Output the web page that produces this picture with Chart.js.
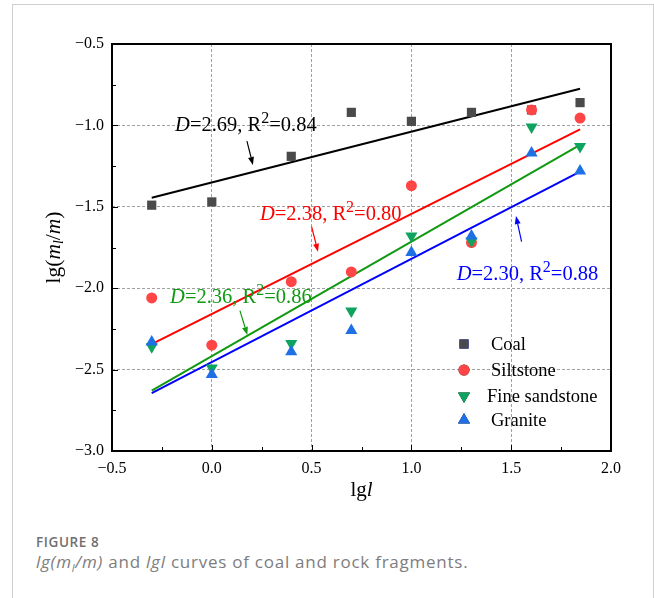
<!DOCTYPE html>
<html lang="en">
<head>
<meta charset="UTF-8">
<title>lg(ml/m) and lgl curves</title>
<script src="https://cdn.jsdelivr.net/npm/chart.js"></script>
<style>
  body { margin: 0; background: #fff; }
  .card { position: absolute; left: 12px; top: 4px; width: 640px; height: 640px;
          border: 1px solid #cfcfcf; border-bottom: none; }
  #chart { position: absolute; left: 0; top: 0; }
  .caption { position: absolute; left: 36px; top: 533px; font-family: 'Open Sans', sans-serif; color: #7d7d7d; }
  .caption .fig { font-size: 13.5px; font-weight: 600; letter-spacing: 0.6px; color: #6f6f6f; }
  .caption .txt { font-size: 17px; letter-spacing: 0.75px; margin-top: -1px; }
</style>
</head>
<body>
<div class="card"></div>
<canvas id="chart" width="654" height="520"></canvas>
<div class="caption">
  <div class="fig">FIGURE 8</div>
  <div class="txt"><i>lg(m<sub style="font-size:11px">l</sub>/m)</i> and <i>lgl</i> curves of coal and rock fragments.</div>
</div>
<script>
// data
const lgl = [-0.301, 0.0, 0.398, 0.699, 1.0, 1.301, 1.602, 1.845];
const coal = [-1.49, -1.47, -1.19, -0.92, -0.975, -0.92, -0.905, -0.86];
const siltstone = [-2.06, -2.35, -1.96, -1.90, -1.37, -1.72, -0.905, -0.955];
const fineSandstone = [-2.36, -2.49, -2.34, -2.14, -1.68, -1.71, -1.01, -1.13];
const granite = [-2.33, -2.53, -2.39, -2.26, -1.78, -1.68, -1.17, -1.28];

// fitted lines (end points)
const fitX = [-0.301, 1.845];
const coalFit = [-1.444, -0.775];
const siltFit = [-2.343, -1.024];
const sandFit = [-2.629, -1.12];
const graniteFit = [-2.645, -1.284];

const xTicks = [-0.5, 0.0, 0.5, 1.0, 1.5, 2.0];
const yTicks = [-3.0, -2.5, -2.0, -1.5, -1.0, -0.5];

const SERIF = "'Liberation Serif', 'Times New Roman', serif";

const pts = (ys) => ys.map((y, i) => ({ x: lgl[i], y: y }));
const line = (ys) => ys.map((y, i) => ({ x: fitX[i], y: y }));
const fmt = (v) => v.toFixed(1).replace('-', '\u2212');

// labels: text parts, anchor in data units, arrow in data units
const notes = [
  { color: '#000000', x: -0.184, y: -1.034, arrow: [0.176, -1.096, 0.206, -1.243], text: ['2.69', '0.84'] },
  { color: '#ff0000', x: 0.241, y: -1.581, arrow: [0.500, -1.622, 0.532, -1.776], text: ['2.38', '0.80'] },
  { color: '#119911', x: -0.209, y: -2.091, arrow: [0.141, -2.138, 0.178, -2.287], text: ['2.36', '0.86'] },
  { color: '#0000ff', x: 1.227, y: -1.950, arrow: [1.552, -1.714, 1.524, -1.557], text: ['2.30', '0.88'] }
];

function drawRich(ctx, parts, x, y) {
  let cx = x;
  parts.forEach(p => {
    ctx.font = (p.italic ? 'italic ' : '') + p.size + 'px ' + SERIF;
    ctx.fillText(p.t, cx, y + (p.dy || 0));
    cx += ctx.measureText(p.t).width;
  });
  return cx - x;
}
function richWidth(ctx, parts) {
  let w = 0;
  parts.forEach(p => {
    ctx.font = (p.italic ? 'italic ' : '') + p.size + 'px ' + SERIF;
    w += ctx.measureText(p.t).width;
  });
  return w;
}

function arrow(ctx, x1, y1, x2, y2, color) {
  const a = Math.atan2(y2 - y1, x2 - x1);
  const hl = 8, hw = 3;
  ctx.strokeStyle = color; ctx.fillStyle = color; ctx.lineWidth = 1.2;
  ctx.beginPath();
  ctx.moveTo(x1, y1);
  ctx.lineTo(x2 - hl * Math.cos(a), y2 - hl * Math.sin(a));
  ctx.stroke();
  ctx.beginPath();
  ctx.moveTo(x2, y2);
  ctx.lineTo(x2 - hl * Math.cos(a) + hw * Math.sin(a), y2 - hl * Math.sin(a) - hw * Math.cos(a));
  ctx.lineTo(x2 - hl * Math.cos(a) - hw * Math.sin(a), y2 - hl * Math.sin(a) + hw * Math.cos(a));
  ctx.closePath();
  ctx.fill();
}

const decor = {
  id: 'decor',
  afterDraw(chart) {
    const ctx = chart.ctx;
    const xs = chart.scales.x, ys = chart.scales.y;
    const a = chart.chartArea;
    ctx.save();

    // inward ticks (major + minor)
    ctx.strokeStyle = '#000'; ctx.lineWidth = 1;
    for (let v = -0.5; v <= 2.0001; v += 0.25) {
      const px = Math.round(xs.getPixelForValue(v)) + 0.5;
      const len = Math.abs(v * 2 - Math.round(v * 2)) < 1e-6 ? 6 : 4;
      ctx.beginPath(); ctx.moveTo(px, a.bottom); ctx.lineTo(px, a.bottom - len); ctx.stroke();
    }
    for (let v = -3.0; v <= -0.4999; v += 0.25) {
      const py = Math.round(ys.getPixelForValue(v)) + 0.5;
      const len = Math.abs(v * 2 - Math.round(v * 2)) < 1e-6 ? 6 : 4;
      ctx.beginPath(); ctx.moveTo(a.left, py); ctx.lineTo(a.left + len, py); ctx.stroke();
    }

    // frame
    ctx.lineWidth = 2;
    ctx.strokeRect(a.left, a.top, a.right - a.left, a.bottom - a.top);

    // fit annotations
    notes.forEach(n => {
      ctx.fillStyle = n.color;
      ctx.textBaseline = 'alphabetic';
      drawRich(ctx, [
        { t: 'D', italic: true, size: 20.5 },
        { t: '=' + n.text[0] + ', R', size: 20.5 },
        { t: '2', size: 16, dy: -8 },
        { t: '=' + n.text[1], size: 20.5 }
      ], xs.getPixelForValue(n.x), ys.getPixelForValue(n.y));
      arrow(ctx, xs.getPixelForValue(n.arrow[0]), ys.getPixelForValue(n.arrow[1]),
                 xs.getPixelForValue(n.arrow[2]), ys.getPixelForValue(n.arrow[3]), n.color);
    });

    // legend inside the plot
    const items = chart.data.datasets.filter(d => d.legend);
    const lx = a.left + 352, rowY = [a.top + 300, a.top + 326, a.top + 352, a.top + 376];
    const tx = [a.left + 379, a.left + 379, a.left + 375, a.left + 379];
    items.forEach((d, i) => {
      Chart.helpers.drawPoint(ctx, {
        pointStyle: d.pointStyle, rotation: d.rotation || 0, radius: d.pointRadius, borderWidth: 0
      }, lx, rowY[i]);
      ctx.fillStyle = d.backgroundColor;
      ctx.fill();
      ctx.fillStyle = '#000';
      ctx.font = '18.5px ' + SERIF;
      ctx.textBaseline = 'middle';
      ctx.fillText(d.label, tx[i], rowY[i] + 1);
    });

    // axis titles
    ctx.fillStyle = '#000';
    ctx.textBaseline = 'middle';
    const xt = [{ t: 'lg', size: 21 }, { t: 'l', italic: true, size: 21 }];
    drawRich(ctx, xt, (a.left + a.right) / 2 - richWidth(ctx, xt) / 2, 490);
    const yt = [
      { t: 'lg(', size: 21.5 }, { t: 'm', italic: true, size: 21.5 },
      { t: 'l', italic: true, size: 14, dy: 5 }, { t: '/', size: 21.5 },
      { t: 'm', italic: true, size: 21.5 }, { t: ')', size: 21.5 }
    ];
    ctx.translate(54, (a.top + a.bottom) / 2);
    ctx.rotate(-Math.PI / 2);
    drawRich(ctx, yt, -richWidth(ctx, yt) / 2, 0);
    ctx.restore();
  }
};

new Chart(document.getElementById('chart'), {
  type: 'scatter',
  data: {
    datasets: [
      { type: 'line', data: line(coalFit), borderColor: '#000000', borderWidth: 2, pointRadius: 0, order: 9 },
      { type: 'line', data: line(siltFit), borderColor: '#ff0000', borderWidth: 2, pointRadius: 0, order: 8 },
      { type: 'line', data: line(sandFit), borderColor: '#119911', borderWidth: 2, pointRadius: 0, order: 7 },
      { type: 'line', data: line(graniteFit), borderColor: '#0000ff', borderWidth: 2, pointRadius: 0, order: 6 },
      { label: 'Coal', legend: true, data: pts(coal), pointStyle: 'rect', pointRadius: 6.5,
        backgroundColor: '#4a4a4a', borderWidth: 0, order: 4 },
      { label: 'Siltstone', legend: true, data: pts(siltstone), pointStyle: 'circle', pointRadius: 5.5,
        backgroundColor: '#ff4545', borderWidth: 0, order: 3 },
      { label: 'Fine sandstone', legend: true, data: pts(fineSandstone), pointStyle: 'triangle', rotation: 180,
        pointRadius: 7, backgroundColor: '#0ea35e', borderWidth: 0, order: 2 },
      { label: 'Granite', legend: true, data: pts(granite), pointStyle: 'triangle', pointRadius: 7,
        backgroundColor: '#1f6fe5', borderWidth: 0, order: 1 }
    ]
  },
  options: {
    responsive: false,
    animation: false,
    layout: { padding: { left: 0, top: 44, right: 43, bottom: 0 } },
    plugins: { legend: { display: false }, tooltip: { enabled: false } },
    scales: {
      x: {
        type: 'linear', min: -0.5, max: 2.0,
        afterBuildTicks: (s) => { s.ticks = xTicks.map(v => ({ value: v })); },
        afterFit: (s) => { s.height = 69; },
        ticks: { callback: fmt, color: '#000', padding: 8, maxRotation: 0,
                 font: { family: SERIF, size: 16 } },
        grid: { color: '#a0a0a0', lineWidth: 1, drawTicks: false },
        border: { display: false, dash: [3, 2] }
      },
      y: {
        type: 'linear', min: -3.0, max: -0.5,
        afterBuildTicks: (s) => { s.ticks = yTicks.map(v => ({ value: v })); },
        afterFit: (s) => { s.width = 112; },
        ticks: { callback: fmt, color: '#000', padding: 8,
                 font: { family: SERIF, size: 16 } },
        grid: { color: '#a0a0a0', lineWidth: 1, drawTicks: false },
        border: { display: false, dash: [3, 2] }
      }
    }
  },
  plugins: [decor]
});
</script>
</body>
</html>
